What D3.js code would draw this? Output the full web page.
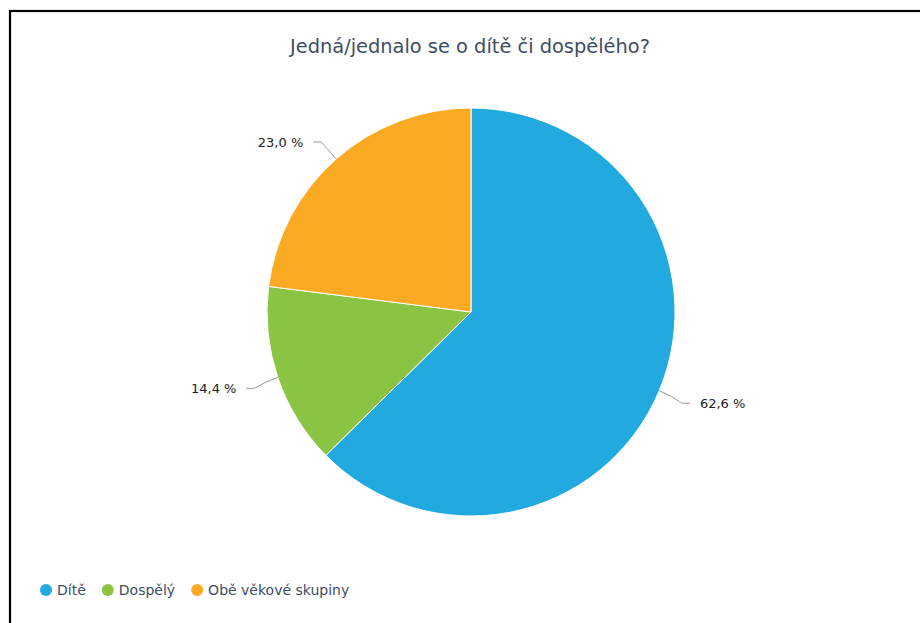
<!DOCTYPE html>
<html>
<head>
<meta charset="utf-8">
<script src="https://cdn.jsdelivr.net/npm/d3@7"></script>
<style>
  body { margin: 0; background: #fff; }
  svg { display: block; }
</style>
</head>
<body>
<div id="chart"></div>
<script>
const categories = ["Dítě", "Dospělý", "Obě věkové skupiny"];
const values = [62.6, 14.4, 23.0];
const colors = ["#22a9e0", "#8bc443", "#fbaa24"];
const title = "Jedná/jednalo se o dítě či dospělého?";

const width = 920, height = 623;
const cx = 471, cy = 312, radius = 204;
const fontFamily = "'DejaVu Sans', sans-serif";
const textColor = "#3e4d63";

const svg = d3.select("#chart").append("svg")
    .attr("width", width)
    .attr("height", height)
    .style("font-family", fontFamily);

// frame, only top and left edges visible
svg.append("rect")
    .attr("x", 10).attr("y", 11)
    .attr("width", width + 20).attr("height", height + 20)
    .attr("fill", "#fff")
    .attr("stroke", "#000")
    .attr("stroke-width", 2.2);

svg.append("text")
    .attr("x", 470)
    .attr("y", 53)
    .attr("text-anchor", "middle")
    .style("font-size", "19.4px")
    .style("fill", textColor)
    .text(title);

const data = categories.map((c, i) => ({ name: c, value: values[i], color: colors[i] }));

const pie = d3.pie().sort(null).value(d => d.value);
const arc = d3.arc().innerRadius(0).outerRadius(radius);
const arcs = pie(data);

const g = svg.append("g").attr("transform", `translate(${cx},${cy})`);

g.selectAll("path.slice")
    .data(arcs)
    .enter()
    .append("path")
    .attr("class", "slice")
    .attr("d", arc)
    .attr("fill", d => d.data.color)
    .attr("stroke", "#fff")
    .attr("stroke-width", 1);

// data labels with curved connectors
const fmt = v => d3.format(".1f")(v).replace(".", ",") + " %";

arcs.forEach(d => {
    const a = (d.startAngle + d.endAngle) / 2;
    const ex = Math.sin(a) * radius, ey = -Math.cos(a) * radius;
    const right = Math.sin(a) > 0;
    const ox = Math.sin(a) * (radius + 14), oy = -Math.cos(a) * (radius + 14);
    const ly = -Math.cos(a) * (radius + 26) + 2.5;
    const px = Math.sin(a) * (radius + 30);
    const endX = right ? px + 3 : px - 3;

    g.append("path")
        .attr("d", `M${endX},${ly} L${endX + (right ? -8 : 8)},${ly} Q${ox},${oy} ${ex},${ey}`)
        .attr("fill", "none")
        .attr("stroke", "#999")
        .attr("stroke-width", 1);

    g.append("text")
        .attr("x", right ? px + 13 : px - 13)
        .attr("y", ly)
        .attr("dy", "0.35em")
        .attr("text-anchor", right ? "start" : "end")
        .style("font-size", "13px")
        .style("fill", "#222")
        .text(fmt(d.data.value));
});

// legend
const legend = svg.append("g").attr("transform", "translate(46,590)");
let lx = 0;
data.forEach(d => {
    const item = legend.append("g").attr("transform", `translate(${lx},0)`);
    item.append("circle").attr("r", 6).attr("fill", d.color);
    const t = item.append("text")
        .attr("x", 11)
        .attr("dy", "0.35em")
        .style("font-size", "14px")
        .style("fill", textColor)
        .text(d.name);
    lx += 11 + t.node().getComputedTextLength() + 22;
});
</script>
</body>
</html>
